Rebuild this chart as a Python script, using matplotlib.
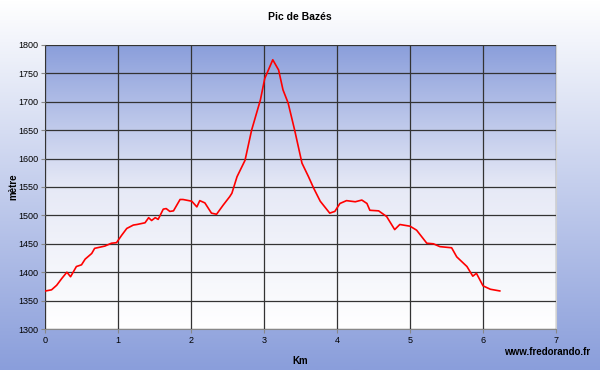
import numpy as np
import matplotlib
matplotlib.use("Agg")
import matplotlib.pyplot as plt
from matplotlib.colors import LinearSegmentedColormap

plt.rcParams['font.family'] = ['Liberation Sans', 'DejaVu Sans']

# profile (km, metres)
km = [0.01, 0.09, 0.16, 0.23, 0.30, 0.35, 0.43, 0.50, 0.55, 0.64, 0.68, 0.82,
      0.91, 0.98, 1.05, 1.12, 1.21, 1.26, 1.37, 1.42, 1.46, 1.51, 1.55, 1.62,
      1.66, 1.71, 1.76, 1.85, 1.89, 2.01, 2.08, 2.12, 2.19, 2.28, 2.35, 2.44,
      2.53, 2.56, 2.63, 2.74, 2.83, 2.95, 3.01, 3.12, 3.20, 3.26, 3.33, 3.42,
      3.52, 3.61, 3.68, 3.77, 3.90, 3.97, 4.04, 4.13, 4.25, 4.34, 4.41, 4.45,
      4.57, 4.68, 4.79, 4.86, 5.00, 5.09, 5.23, 5.32, 5.41, 5.57, 5.64, 5.78,
      5.86, 5.91, 6.00, 6.10, 6.23]
alt = [1367, 1369, 1377, 1389, 1400, 1392, 1410, 1413, 1423, 1433, 1442, 1446,
       1451, 1452, 1465, 1477, 1483, 1484, 1487, 1496, 1491, 1496, 1493, 1511,
       1512, 1507, 1508, 1528, 1528, 1525, 1515, 1526, 1522, 1504, 1502, 1518,
       1533, 1539, 1568, 1597, 1650, 1703, 1741, 1774, 1756, 1721, 1698, 1650,
       1592, 1568, 1548, 1525, 1504, 1507, 1521, 1526, 1524, 1527, 1521, 1509,
       1508, 1498, 1475, 1484, 1481, 1474, 1451, 1450, 1445, 1443, 1427, 1410,
       1393, 1398, 1376, 1370, 1367]

xticks = [0, 1, 2, 3, 4, 5, 6, 7]
yticks = [1300, 1350, 1400, 1450, 1500, 1550, 1600, 1650, 1700, 1750, 1800]

fig = plt.figure(figsize=(6, 3.7), dpi=100)

# outer background: white at top to blue at bottom
bg = fig.add_axes([0, 0, 1, 1], zorder=-10)
outer = LinearSegmentedColormap.from_list("outer", ["#8a9edb", "#ffffff"])
bg.imshow(np.linspace(0, 1, 256).reshape(-1, 1), aspect="auto", cmap=outer,
          extent=[0, 1, 0, 1], origin="lower")
bg.axis("off")

ax = fig.add_axes([0.075, 0.1108, 0.8517, 0.7676])
inner = LinearSegmentedColormap.from_list("inner", ["#ffffff", "#e6e9f6", "#8a9edb"])
ax.imshow(np.linspace(0, 1, 256).reshape(-1, 1), aspect="auto", cmap=inner,
          extent=[0, 7, 1300, 1800], origin="lower", zorder=0)

ax.plot(km, alt, color="#ff0000", lw=1.2, zorder=3)

ax.set_xlim(0, 7)
ax.set_ylim(1300, 1800)
ax.set_xticks(xticks)
ax.set_yticks(yticks)
ax.grid(True, color="#333333", lw=0.9, zorder=1)
ax.set_axisbelow(False)
for s in ["top", "right"]:
    ax.spines[s].set_color("#d0d0d0")
ax.spines["left"].set_color("#888888")
ax.spines["bottom"].set_color("#888888")
ax.tick_params(labelsize=6.5, length=3, color="#888888", pad=2)

ax.set_xlabel("Km", fontsize=7, fontweight="bold", labelpad=8)
fig.text(13 / 600, 1 - 187 / 370, "mètre", rotation=90, ha="center", va="center",
         fontsize=7, fontweight="bold")
fig.text(0.5, 0.955, "Pic de Bazés", ha="center", va="center",
         fontsize=7.5, fontweight="bold")
fig.text(0.983, 0.048, "www.fredorando.fr", ha="right", va="center",
         fontsize=7, fontweight="bold")

fig.savefig("out.png", dpi=100)
